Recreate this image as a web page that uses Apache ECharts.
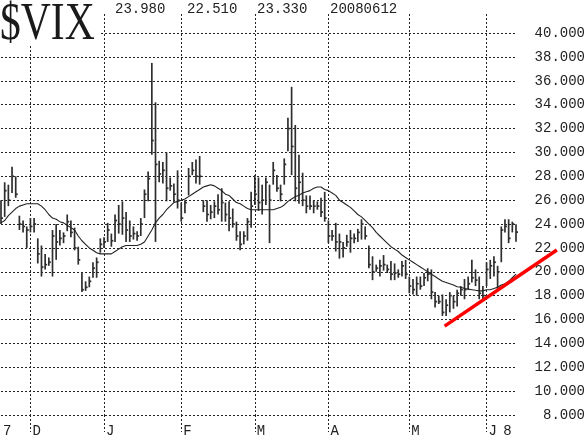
<!DOCTYPE html>
<html><head><meta charset="utf-8">
<script src="https://cdn.jsdelivr.net/npm/echarts@6/dist/echarts.min.js"></script>
<style>html,body{margin:0;padding:0;background:#fff}#c{width:588px;height:441px}</style>
</head><body><div id="c"></div>
<script>
// Trading-day OHLC of $VIX, late Nov 2007 .. 2008-06-12
const highs = [
26.0,27.5,27.3,28.8,28.0,24.7,24.3,23.8,24.5,24.5,
22.8,22.2,21.5,21.2,23.5,24.0,23.5,23.3,24.8,24.3,
23.7,22.1,19.9,19.2,19.6,20.8,21.2,22.8,22.9,24.1,
23.2,24.8,25.6,25.9,25.0,24.3,23.8,23.4,24.5,26.9,
28.4,37.5,34.2,29.3,29.2,30.0,27.9,27.4,28.5,25.8,
26.0,28.7,29.2,29.4,29.7,26.0,26.0,25.6,25.9,26.5,
27.0,25.8,25.9,25.3,24.2,23.4,23.4,24.5,26.7,28.1,
27.9,27.3,27.9,27.3,29.2,28.1,27.3,29.5,32.9,35.5,
32.3,29.8,28.3,26.4,26.4,26.0,25.9,26.2,26.7,24.3,
23.5,24.1,23.2,22.5,23.1,23.5,23.2,23.6,24.4,23.8,
22.2,21.3,20.6,21.0,21.4,20.6,20.9,20.7,20.2,20.9,
21.0,19.6,19.4,19.6,19.6,19.9,20.3,20.2,18.3,18.0,
18.1,17.7,18.3,18.0,18.5,18.8,19.4,19.6,21.0,20.2,
19.6,18.8,20.8,21.0,21.3,20.5,23.8,24.4,24.4,24.2,23.98];
const lows = [
24.0,24.6,25.5,26.6,26.2,23.5,23.3,22.0,23.3,23.3,
20.7,19.6,20.2,20.5,19.6,21.0,22.2,22.4,23.4,22.9,
21.8,20.6,18.3,18.4,18.7,19.5,19.5,21.6,22.0,22.5,
22.1,22.5,23.2,23.1,22.5,22.5,22.7,22.6,23.0,24.5,
25.9,29.8,22.5,27.5,27.4,25.9,26.8,25.8,25.3,24.2,
24.9,26.4,28.1,27.4,27.3,25.0,24.2,24.4,24.5,24.8,
24.2,24.2,23.4,23.7,22.6,21.8,22.3,22.6,23.7,25.6,
25.1,24.8,25.6,22.4,27.3,26.7,25.9,27.3,30.1,28.1,
25.9,25.7,25.5,24.9,25.2,24.9,25.2,24.6,24.2,22.4,
22.6,21.7,21.1,21.2,22.1,21.6,22.4,22.5,22.7,22.7,
20.3,19.3,20.0,19.6,20.1,19.9,19.3,19.3,19.5,19.6,
19.4,18.2,18.1,18.0,18.5,18.8,19.2,17.7,17.0,17.3,
16.3,16.3,16.6,16.9,17.1,18.0,17.7,18.5,19.1,18.8,
17.7,17.7,18.8,19.4,19.6,18.5,20.8,23.3,22.4,23.3,22.51];
const closes = [
24.5,26.8,26.0,28.0,26.5,24.0,23.8,23.5,23.8,24.0,
21.5,20.4,20.6,20.8,23.0,22.5,22.8,23.0,24.2,23.3,
22.0,21.0,18.5,18.7,19.2,20.3,20.8,22.3,22.5,23.5,
22.6,24.3,24.0,24.5,23.5,23.0,23.2,23.0,24.0,26.5,
27.8,31.0,29.0,28.2,28.5,27.0,27.2,26.5,26.0,24.5,
25.8,28.0,28.5,28.0,28.0,25.5,24.8,25.0,25.5,25.2,
25.8,24.8,24.5,24.0,23.0,22.3,23.0,24.2,25.5,26.5,
25.8,26.0,27.5,26.0,28.5,27.0,26.5,29.0,32.0,30.5,
27.0,27.5,26.0,25.5,25.5,25.5,25.5,25.0,24.5,23.0,
23.0,22.5,22.5,22.0,22.5,22.8,22.8,23.3,24.0,23.0,
20.6,20.0,20.3,20.5,20.6,20.2,19.8,19.9,19.8,20.5,
19.8,18.8,18.5,19.0,18.8,19.5,19.8,18.3,17.5,17.5,
16.6,17.2,18.0,17.5,18.2,18.5,18.5,19.0,19.5,19.3,
18.2,18.0,20.2,20.5,20.8,20.0,23.5,23.8,22.8,24.0,23.33];
const ma20 = [
24.1,24.3,24.7,25.0,25.3,25.5,25.6,25.7,25.7,25.7,
25.7,25.5,25.2,24.8,24.5,24.4,24.2,24.1,23.9,23.7,
23.5,23.0,22.6,22.3,22.0,21.8,21.6,21.5,21.5,21.5,
21.5,21.7,21.9,22.1,22.2,22.2,22.2,22.2,22.3,22.5,
23.0,23.5,24.1,24.5,24.8,25.2,25.5,25.8,25.9,26.0,
26.1,26.3,26.5,26.7,26.9,27.1,27.2,27.3,27.2,27.0,
26.8,26.5,26.4,26.1,25.8,25.7,25.5,25.3,25.2,25.2,
25.2,25.2,25.2,25.2,25.2,25.3,25.4,25.6,25.9,26.1,
26.3,26.4,26.6,26.7,26.8,27.0,27.1,27.1,26.9,26.8,
26.6,26.4,26.0,25.8,25.6,25.4,25.1,24.8,24.6,24.3,
24.0,23.7,23.3,23.0,22.7,22.4,22.1,21.9,21.7,21.4,
21.2,21.0,20.8,20.6,20.4,20.2,20.0,19.8,19.6,19.4,
19.2,19.1,19.0,18.9,18.75,18.7,18.6,18.55,18.5,18.45,
18.4,18.4,18.5,18.5,18.6,18.7,18.9,19.0,19.2,19.5,19.8];
// month starts (day index) and their labels
const monthIdx = [8, 28, 49, 69, 89, 111, 132];
const monthLabels = ['D', 'J', 'F', 'M', 'A', 'M', 'J'];
const yearIdx = [0, 136];
const yearLabels = ['7', '8'];
// red support trend line: [day index, value] (drawn past the last day)
const trendLine = [[120.6, 15.45], [151.1, 21.83]];
const headerValues = ['23.980', '22.510', '23.330', '20080612'];
const yTicks = {min: 8, max: 40, step: 2};

const days = highs.map((_, i) => i);
const ohlc = days.map(i => [i, highs[i], lows[i], closes[i]]);

const chart = echarts.init(document.getElementById('c'), null, {renderer: 'canvas'});
const dot = {color: '#222', width: 1, type: [2, 2]};
const monoFont = 'Liberation Mono';
const labelFor = (i) => {
  const m = monthIdx.indexOf(i); if (m >= 0) return monthLabels[m];
  const y = yearIdx.indexOf(i); if (y >= 0) return yearLabels[y];
  return '';
};
const hdrX = [115, 187, 257, 330];
chart.setOption({
  animation: false,
  backgroundColor: '#fff',
  grid: {left: 1, right: 72, top: 14, bottom: 26, containLabel: false},
  xAxis: [{
    type: 'category', data: days, boundaryGap: false,
    axisLine: {show: false},
    axisTick: {show: true, length: 17, interval: (i) => monthIdx.includes(i), lineStyle: dot},
    splitLine: {show: true, interval: (i) => monthIdx.includes(i), lineStyle: dot},
    axisLabel: {
      interval: (i) => monthIdx.includes(i) || yearIdx.includes(i),
      formatter: (v, i) => labelFor(Number(v)),
      align: 'left', padding: [0, 0, 0, 2], margin: 9,
      fontFamily: monoFont, fontSize: 14, color: '#222'
    }
  }, {
    type: 'value', min: 0, max: days.length - 1, show: false
  }],
  yAxis: {
    type: 'value', position: 'right', min: yTicks.min, max: 41.6, interval: yTicks.step,
    axisLine: {show: false}, axisTick: {show: false},
    splitLine: {show: true, showMaxLine: false, lineStyle: dot},
    axisLabel: {
      formatter: (v) => v > yTicks.max + 0.01 ? '' : v.toFixed(3),
      showMaxLabel: false, align: 'right', margin: 69,
      fontFamily: monoFont, fontSize: 14, color: '#222'
    }
  },
  graphic: [
    {type: 'rect', left: 0, top: 0, z: 100, shape: {width: 100, height: 44}, style: {fill: '#fff'}},
    {type: 'text', x: 0, y: 25, z: 101, scaleX: 0.8,
      style: {text: '$VIX', font: '52px "Liberation Serif"', fill: '#1a1a1a', verticalAlign: 'middle'}},
  ].concat(headerValues.map((t, k) => ({
    type: 'text', x: hdrX[k], y: 9, z: 101,
    style: {text: t, font: '14px "Liberation Mono"', fill: '#222', verticalAlign: 'middle'}
  }))),
  series: [
    {
      type: 'custom', data: ohlc, encode: {x: 0, y: [1, 2, 3]}, z: 3,
      renderItem: (params, api) => {
        const i = api.value(0);
        const h = api.coord([i, api.value(1)]);
        const l = api.coord([i, api.value(2)]);
        const c = api.coord([i, api.value(3)]);
        const st = {stroke: '#2e2e2e', lineWidth: 1.7};
        return {type: 'group', children: [
          {type: 'line', shape: {x1: h[0], y1: h[1], x2: l[0], y2: l[1]}, style: st},
          {type: 'line', shape: {x1: c[0], y1: c[1], x2: c[0] + 2, y2: c[1]}, style: st}
        ]};
      }
    },
    {
      type: 'line', data: ma20, symbol: 'none', z: 4,
      lineStyle: {color: '#222', width: 1.1}
    },
    {
      type: 'custom', xAxisIndex: 1, data: [trendLine[0].concat(trendLine[1])],
      encode: {x: [0, 2], y: [1, 3]}, clip: false, z: 5,
      renderItem: (params, api) => {
        const a = api.coord([api.value(0), api.value(1)]);
        const b = api.coord([api.value(2), api.value(3)]);
        return {type: 'line', shape: {x1: a[0], y1: a[1], x2: b[0], y2: b[1]},
          style: {stroke: '#ff0000', lineWidth: 3.5, lineCap: 'butt'}};
      }
    }
  ]
});
</script></body></html>
